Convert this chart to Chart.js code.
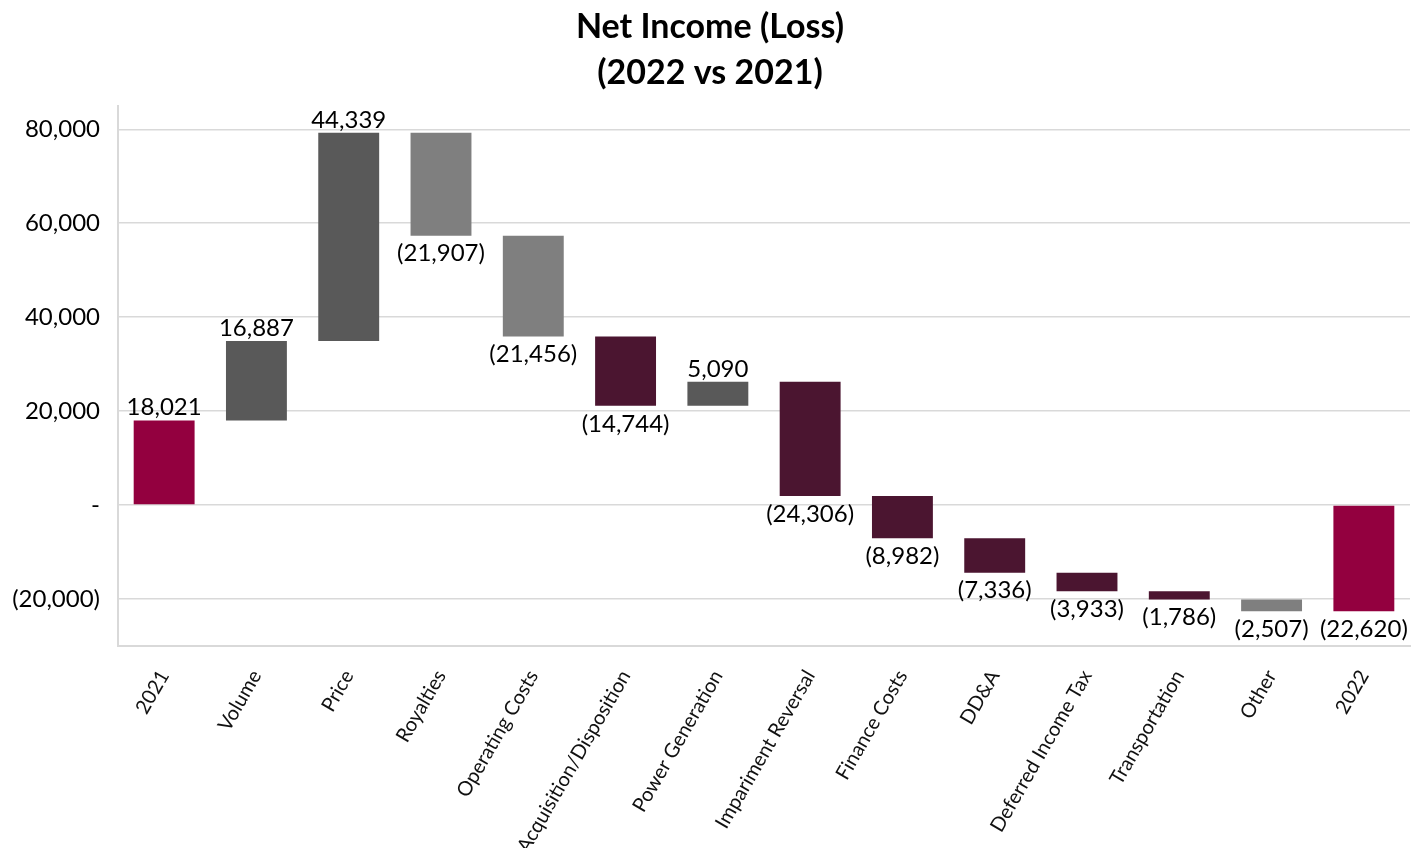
<!DOCTYPE html>
<html>
<head>
<meta charset="utf-8">
<script src="https://cdn.jsdelivr.net/npm/chart.js@4.4.0/dist/chart.umd.min.js"></script>
<style>
  html, body { margin: 0; padding: 0; background: #fff; }
  #container-canvas { width: 1427px; height: 848px; }
</style>
</head>
<body>
<div id="container-canvas"><canvas id="myChart"></canvas></div>
<script>
const categories = ['2021', 'Volume', 'Price', 'Royalties', 'Operating Costs', 'Acquisition/Disposition',
  'Power Generation', 'Impariment Reversal', 'Finance Costs', 'DD&A', 'Deferred Income Tax',
  'Transportation', 'Other', '2022'];
const changes = [18021, 16887, 44339, -21907, -21456, -14744, 5090, -24306, -8982, -7336, -3933, -1786, -2507, -22620];
const isTotal = [true, false, false, false, false, false, false, false, false, false, false, false, false, true];
const yTicks = [-20000, 0, 20000, 40000, 60000, 80000];

const barColors = ['#93003f', '#595959', '#595959', '#7f7f7f', '#7f7f7f', '#4b1530', '#595959',
  '#4b1530', '#4b1530', '#4b1530', '#4b1530', '#4b1530', '#7f7f7f', '#93003f'];

// floating bars from the running total
let running = 0;
const floating = changes.map((v, i) => {
  if (isTotal[i]) {
    running = v;
    return [0, v];
  }
  const start = running;
  running += v;
  return [start, running];
});

const fmt = v => {
  if (v === 0) return '-';
  const s = Math.abs(v).toLocaleString('en-US');
  return v < 0 ? '(' + s + ')' : s;
};

const FONT = "Lato, 'Open Sans', sans-serif";

const valueLabels = {
  id: 'valueLabels',
  afterDatasetsDraw(chart) {
    const ctx = chart.ctx;
    const meta = chart.getDatasetMeta(0);
    ctx.save();
    ctx.font = '24px ' + FONT;
    ctx.fillStyle = '#000';
    ctx.textAlign = 'center';
    meta.data.forEach((bar, i) => {
      const top = Math.min(bar.y, bar.base);
      const bottom = Math.max(bar.y, bar.base);
      if (changes[i] >= 0) {
        ctx.textBaseline = 'bottom';
        ctx.fillText(fmt(changes[i]), bar.x, top - 1);
      } else {
        ctx.textBaseline = 'top';
        ctx.fillText(fmt(changes[i]), bar.x, bottom + 6);
      }
    });
    ctx.restore();
  }
};

new Chart(document.getElementById('myChart'), {
  type: 'bar',
  data: {
    labels: categories,
    datasets: [{
      data: floating,
      backgroundColor: barColors,
      borderWidth: 0,
      categoryPercentage: 1,
      barPercentage: 0.66
    }]
  },
  options: {
    responsive: true,
    maintainAspectRatio: false,
    animation: false,
    layout: { padding: { left: 10, right: 17, top: 0, bottom: 0 } },
    plugins: {
      legend: { display: false },
      tooltip: { enabled: false },
      title: {
        display: true,
        text: ['Net Income (Loss)', '(2022 vs 2021)'],
        color: '#000',
        font: { family: FONT, size: 34, weight: 'bold', lineHeight: 1.35 },
        padding: { top: 4, bottom: 10 }
      }
    },
    scales: {
      x: {
        grid: { display: false },
        border: { display: true, color: '#d9d9d9', width: 2 },
        ticks: {
          color: '#111',
          font: { family: FONT, size: 20 },
          minRotation: 60,
          maxRotation: 60,
          autoSkip: false,
          padding: 12
        },
        afterFit: s => { s.height = 202; }
      },
      y: {
        min: -30000,
        max: 85000,
        afterBuildTicks: s => { s.ticks = yTicks.map(v => ({ value: v })); },
        grid: { color: '#d9d9d9', lineWidth: 1.5, drawTicks: false },
        border: { display: true, color: '#d9d9d9', width: 2 },
        ticks: {
          color: '#000',
          font: { family: FONT, size: 24 },
          padding: 18,
          callback: v => fmt(v)
        },
        afterFit: s => { s.width = 108; }
      }
    }
  },
  plugins: [valueLabels]
});
</script>
</body>
</html>
